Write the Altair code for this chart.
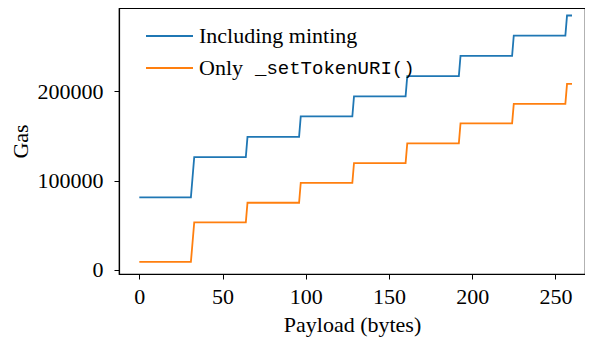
import altair as alt
import pandas as pd

# Payload breakpoints (bytes) and gas values
payload = [0, 31, 32, 33, 64, 65, 96, 97, 128, 129, 160, 161, 192, 193, 224, 225, 256, 257, 260]
gas_minting = [81200, 81200, 103700, 126200, 126200, 148900, 148900, 171700, 171700, 194100,
               194100, 216800, 216800, 239400, 239400, 262200, 262200, 284600, 284600]
gas_seturi = [9000, 9000, 31000, 53300, 53300, 75200, 75200, 97500, 97500, 119600,
              119600, 141600, 141600, 163900, 163900, 185800, 185800, 208200, 208200]

series_names = ["Including minting", "Only _setTokenURI()"]
colors = ["#1f77b4", "#ff7f0e"]
x_ticks = [0, 50, 100, 150, 200, 250]
y_ticks = [0, 100000, 200000]

rows = []
for i, p in enumerate(payload):
    rows.append({"payload": p, "gas": gas_minting[i], "series": series_names[0], "order": i})
    rows.append({"payload": p, "gas": gas_seturi[i], "series": series_names[1], "order": i})
df = pd.DataFrame(rows)

SERIF = "Liberation Serif"
MONO = "Liberation Mono"
FS = 22

lines = alt.Chart(df).mark_line(strokeWidth=1.8, clip=True).encode(
    x=alt.X("payload:Q", title="Payload (bytes)",
            scale=alt.Scale(domain=[-12.2, 267.8], nice=False, zero=False),
            axis=alt.Axis(values=x_ticks, format="d")),
    y=alt.Y("gas:Q", title="Gas",
            scale=alt.Scale(domain=[-4500, 293000], nice=False, zero=False),
            axis=alt.Axis(values=y_ticks, format="d")),
    color=alt.Color("series:N", scale=alt.Scale(domain=series_names, range=colors), legend=None),
    order="order:Q",
)

# legend (drawn manually so the function name can use a monospace font)
leg1_line = alt.Chart(pd.DataFrame({"a": [0]})).mark_rule(color=colors[0], strokeWidth=1.8).encode(
    x=alt.value(27), x2=alt.value(74), y=alt.value(28))
leg2_line = alt.Chart(pd.DataFrame({"a": [0]})).mark_rule(color=colors[1], strokeWidth=1.8).encode(
    x=alt.value(27), x2=alt.value(74), y=alt.value(60))
leg1_text = alt.Chart(pd.DataFrame({"a": [0]})).mark_text(
    text=series_names[0], font=SERIF, fontSize=FS, align="left", baseline="middle", color="black"
).encode(x=alt.value(80), y=alt.value(28))
leg2_text_a = alt.Chart(pd.DataFrame({"a": [0]})).mark_text(
    text="Only", font=SERIF, fontSize=FS, align="left", baseline="middle", color="black"
).encode(x=alt.value(80), y=alt.value(60))
leg2_text_b = alt.Chart(pd.DataFrame({"a": [0]})).mark_text(
    text="_setTokenURI()", font=MONO, fontSize=19, align="left", baseline="middle", color="black"
).encode(x=alt.value(136), y=alt.value(60))

chart = alt.layer(lines, leg1_line, leg2_line, leg1_text, leg2_text_a, leg2_text_b).properties(
    width=466, height=266,
    autosize=alt.AutoSizeParams(type="none"),
    padding={"left": 111, "top": 0, "right": 0, "bottom": 68},
).configure_view(
    stroke="black", strokeWidth=1.2
).configure_axis(
    grid=False,
    domainColor="black", domainWidth=1.2,
    tickColor="black", tickWidth=1, tickSize=5,
    labelFont=SERIF, labelFontSize=FS, labelColor="black",
    titleFont=SERIF, titleFontSize=FS, titleColor="black", titleFontWeight="normal",
).configure_axisX(
    labelPadding=7, titlePadding=7,
).configure_axisY(
    labelPadding=11, titlePadding=5,
)

chart.save("out.html", embed_options={"renderer": "svg", "actions": False})
